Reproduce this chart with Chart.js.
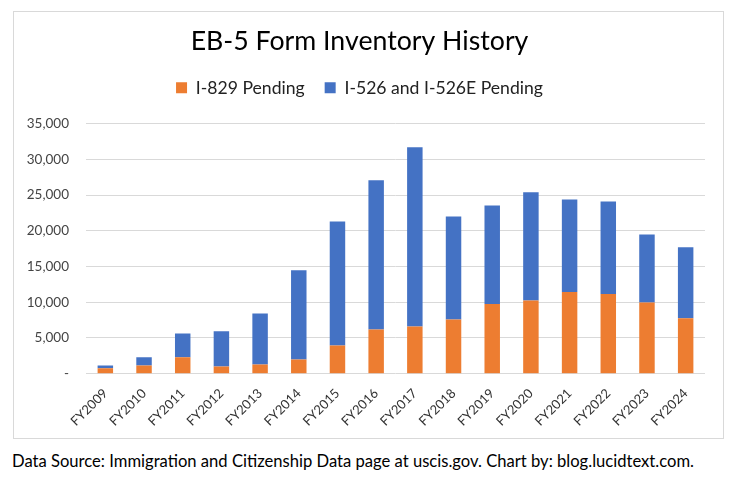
<!DOCTYPE html>
<html>
<head>
<meta charset="utf-8">
<script src="https://cdn.jsdelivr.net/npm/chart.js@4.4.1/dist/chart.umd.min.js"></script>
<style>
  html, body { margin:0; padding:0; background:#fff; }
  body { width:736px; height:479px; position:relative; overflow:hidden; font-family:Lato, "Noto Sans", sans-serif; }
  #box { position:absolute; left:13px; top:11px; width:709px; height:426px; border:1px solid #d9d9d9; }
  #box canvas { display:block; }
  #source { position:absolute; left:12px; top:451px; font-size:16.6px; color:#000; white-space:nowrap; }
</style>
</head>
<body>
<div id="box"><canvas id="chart" width="709" height="426"></canvas></div>
<div id="source">Data Source: Immigration and Citizenship Data page at uscis.gov. Chart by: blog.lucidtext.com.</div>
<script>
// Fiscal years shown on the x axis
const years = ['FY2009','FY2010','FY2011','FY2012','FY2013','FY2014','FY2015','FY2016',
               'FY2017','FY2018','FY2019','FY2020','FY2021','FY2022','FY2023','FY2024'];
// I-829 pending (bottom, orange)
const i829 = [780, 1160, 2290, 1020, 1300, 2000, 3960, 6200,
              6620, 7600, 9750, 10260, 11430, 11150, 9980, 7750];
// I-526 / I-526E pending (stacked on top, blue)
const i526 = [380, 1130, 3350, 4910, 7140, 12470, 17360, 20880,
              25060, 14420, 13810, 15120, 12970, 12970, 9520, 9940];
const yTicks = [0, 5000, 10000, 15000, 20000, 25000, 30000, 35000];

const FONT = 'Lato, "Noto Sans", sans-serif';

// extra space between legend and plot area
const legendGap = {
  id: 'legendGap',
  beforeInit(chart) {
    const fit = chart.legend.fit;
    chart.legend.fit = function() { fit.call(this); this.height += 17; };
  }
};

new Chart(document.getElementById('chart'), {
  type: 'bar',
  data: {
    labels: years,
    datasets: [
      { label:'I-829 Pending', data:i829, backgroundColor:'#ED7D31' },
      { label:'I-526 and I-526E Pending', data:i526, backgroundColor:'#4472C4' }
    ]
  },
  plugins: [legendGap],
  options: {
    responsive: false,
    animation: false,
    layout: { padding: { left:0, right:18, top:0, bottom:5 } },
    datasets: { bar: { barPercentage:0.4, categoryPercentage:1 } },
    plugins: {
      title: { display:true, text:'EB-5 Form Inventory History', color:'#000',
               font:{ family:FONT, size:26.7, weight:'normal' }, padding:{ top:13, bottom:2 } },
      legend: { position:'top',
        labels: { color:'#222', boxWidth:11, boxHeight:11, padding:20,
                  font:{ family:FONT, size:17.6 } } },
      tooltip: { enabled:false }
    },
    scales: {
      x: {
        stacked: true,
        grid: { display:false },
        border: { display:false },
        ticks: { color:'#333', minRotation:45, maxRotation:45, padding:4,
                 font:{ family:FONT, size:13 } }
      },
      y: {
        stacked: true,
        min: 0, max: 35000,
        afterFit: s => { s.width = 72; },
        afterBuildTicks: s => { s.ticks = yTicks.map(v => ({ value:v })); },
        grid: { color:'#d9d9d9', drawTicks:false },
        border: { display:false },
        ticks: { color:'#444', padding:17, font:{ family:FONT, size:13.5 },
                 callback: v => v === 0 ? '-' : v.toLocaleString('en-US') }
      }
    }
  }
});
</script>
</body>
</html>
